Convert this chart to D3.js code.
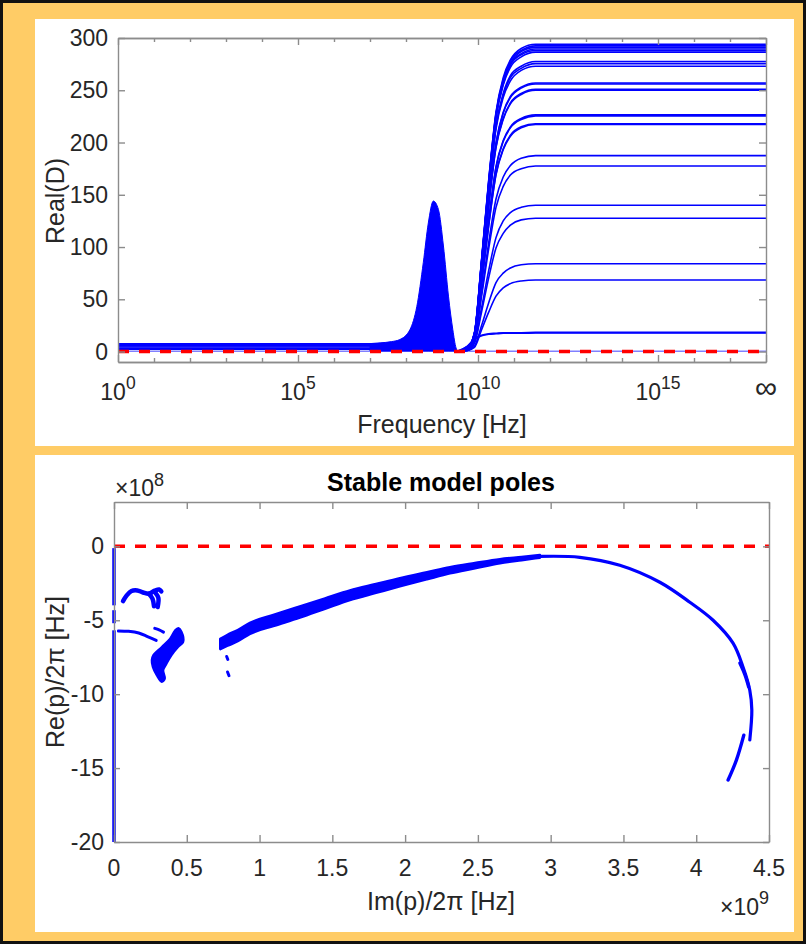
<!DOCTYPE html>
<html>
<head>
<meta charset="utf-8">
<script src="https://cdn.jsdelivr.net/npm/d3@7"></script>
<style>
  html, body { margin: 0; padding: 0; background: #fff; }
  svg { display: block; }
  text { font-family: "Liberation Sans", Arial, Helvetica, sans-serif; }
</style>
</head>
<body>
<svg id="fig" width="806" height="944"></svg>
<script>
// ---------------- Real(D) against frequency ----------------
// decade exponents of the frequency axis (10^18 is shown as infinity)
const freqDecades = [0, 1, 2, 3, 4, 5, 6, 7, 8, 9, 10, 11, 12, 13, 14, 15, 16, 17, 18];
const freqMajor = [0, 5, 10, 15, 18];
const realTicks = [0, 50, 100, 150, 200, 250, 300];

// flat low-frequency band: one line per level, up to where the resonance starts
const lowBandLevels = [2, 2.8, 3.6, 4.4, 5.2, 6.0, 6.8, 7.5];
const lowBandSpan = [0, 7.4];

// outline of the resonance bundle around 10^8.7 Hz: [exponent, Real(D)]
const peakEnvelope = [
  [7.0, 7.6], [7.28, 8.3], [7.6, 9.5], [7.83, 11.5], [8.11, 21], [8.3, 43],
  [8.48, 85], [8.62, 123], [8.76, 144], [8.9, 136], [9.04, 101], [9.18, 53],
  [9.3, 21], [9.39, 3.5], [9.43, 0.5]
];

// high-frequency rise: exponents and the value of each response at them
const riseExp = [9.4, 9.7, 9.9, 10.1, 10.3, 10.5, 10.7, 10.9, 11.2, 11.6, 18];
const riseCurves = [
  [0, 3, 18, 88, 165, 229, 262, 279, 290, 294, 294],
  [0, 3, 17, 87, 164, 228, 260, 278, 288, 292.5, 292.5],
  [0, 3, 17, 87, 163, 227, 259, 276, 287, 291, 291],
  [0, 3, 17, 86, 162, 226, 258, 275, 285, 289.5, 289.5],
  [0, 3, 17, 86, 161, 225, 256, 274, 284, 288, 288],
  [0, 3, 17, 85, 160, 223, 255, 272, 282, 286.5, 286.5],
  [0, 3, 16, 83, 155, 216, 247, 264, 273, 277.5, 277.5],
  [0, 3, 16, 82, 154, 215, 245, 262, 271, 275.5, 275.5],
  [0, 3, 16, 82, 153, 213, 243, 259, 269, 273, 273],
  [0, 3, 15, 77, 144, 200, 229, 244, 253, 257, 257],
  [0, 3, 15, 77, 143, 199, 228, 243, 252, 256, 256],
  [0, 3, 15, 75, 141, 196, 223, 238, 247, 251, 251],
  [0, 3, 15, 75, 140, 195, 222, 237, 246, 250, 250],
  [0, 2, 14, 68, 127, 177, 202, 215, 223, 226.5, 226.5],
  [0, 2, 14, 67, 126, 176, 201, 214, 222, 225.5, 225.5],
  [0, 2, 13, 65, 122, 170, 194, 207, 215, 218, 218],
  [0, 2, 13, 65, 121, 169, 193, 206, 214, 217.2, 217.2],
  [0, 2, 11, 56, 105, 146, 167, 178, 185, 187.5, 187.5],
  [0, 2, 11, 53, 99, 138, 158, 169, 175, 177.5, 177.5],
  [0, 1, 8, 42, 78, 109, 125, 133, 138, 140, 140],
  [0, 1, 8, 38, 71, 99, 113, 121, 126, 127.5, 127.5],
  [0, 1, 5, 25, 47, 66, 75, 80, 83, 84, 84],
  [0, 1, 4, 21, 38, 53, 61, 65, 67.5, 68.5, 68.5],
  [0, 5, 12, 15.5, 17, 17.5, 18, 18, 18, 18.3, 18.3],
  [0, 5, 11.5, 15, 16.5, 17, 17.5, 17.6, 17.6, 17.7, 17.7]
];
const zeroTrace = [[0, 0.3], [18, 0.3]];

// ---------------- Stable model poles ----------------
const imTicks = [0, 0.5, 1, 1.5, 2, 2.5, 3, 3.5, 4, 4.5];          // x 1e9
const reTicks = [-20, -15, -10, -5, 0];                          // x 1e8

// poles on the real axis (Im ~ 0): [Im, Re] segments
const axisPoles = [
  [[0.0, -0.12], [0.0, -3.99]],
  [[0.0, -4.32], [0.0, -5.2]],
  [[0.0, -5.68], [0.0, -20]]
];
// small curled group near Re = -3.5e8
const curlPoles = [
  [[0.062, -3.7], [0.085, -3.35], [0.12, -3.02], [0.16, -2.98], [0.2, -3.12], [0.24, -3.2], [0.28, -3.0], [0.31, -2.92], [0.325, -3.05]],
  [[0.24, -3.2], [0.265, -3.55], [0.275, -4.05]],
  [[0.285, -3.15], [0.305, -3.5], [0.3, -4.1]]
];
// thin branches near Re = -6e8
const branchPoles = [
  [[0.03, -5.72], [0.1, -5.75], [0.17, -5.86], [0.23, -6.1], [0.29, -6.36]],
  [[0.28, -5.55], [0.31, -5.65], [0.34, -5.8]],
  [[0.774, -7.45], [0.782, -7.65]],
  [[0.78, -8.5], [0.79, -8.75]]
];
// dense cluster outline
const clusterOutline = [
  [0.270, -7.36], [0.328, -6.80], [0.385, -6.24], [0.419, -5.68], [0.442, -5.52],
  [0.465, -5.79], [0.476, -6.47], [0.442, -6.80], [0.396, -7.36], [0.362, -7.93],
  [0.339, -8.38], [0.350, -8.94], [0.328, -9.17], [0.293, -8.72], [0.266, -8.16],
  [0.259, -7.70]
];
// main pole arc, band part: [Im, upper Re, lower Re]
const arcBand = [
  [0.73, -6.25, -6.95], [0.78, -5.98, -6.72], [0.85, -5.66, -6.42], [0.934, -5.17, -5.92],
  [1.1, -4.62, -5.38], [1.277, -4.06, -4.82], [1.45, -3.52, -4.22], [1.621, -2.99, -3.63],
  [1.8, -2.55, -3.15], [1.964, -2.15, -2.71], [2.15, -1.75, -2.23], [2.308, -1.41, -1.83],
  [2.48, -1.13, -1.49], [2.651, -0.87, -1.15], [2.8, -0.72, -0.94], [2.926, -0.59, -0.77]
];
// main pole arc, thin part down to the right
const arcTail = [
  [2.926, -0.68], [3.2, -0.74], [3.475, -1.28], [3.75, -2.43], [3.956, -3.78],
  [4.116, -5.0], [4.253, -6.55], [4.322, -8.18], [4.368, -9.73], [4.382, -11.08], [4.368, -13.1]
];
const arcExtra = [
  [[4.30, -7.9], [4.335, -8.7], [4.36, -9.5]],
  [[4.327, -12.77], [4.276, -14.46], [4.219, -15.81]]
];

// ---------------- drawing ----------------
const BLUE = "#0000ff", AXIS = "#8c8c8c", INK = "#262626";
const TICK_FS = 23, LABEL_FS = 25;
const svg = d3.select("#fig");

// frame: black rim, orange mat, two white panels
svg.append("rect").attr("width", 806).attr("height", 944).attr("fill", "#111");
svg.append("rect").attr("x", 3).attr("y", 3).attr("width", 800).attr("height", 938).attr("fill", "#ffcc66");
svg.append("rect").attr("x", 35).attr("y", 19).attr("width", 759).attr("height", 427).attr("fill", "#fff");
svg.append("rect").attr("x", 35).attr("y", 455).attr("width", 759).attr("height", 477).attr("fill", "#fff");

function boxAxes(g, x, y, xMajor, xMinor, yMajor, yLen) {
  const [x0, x1] = x.range(), [y0, y1] = y.range();
  const addAxis = (axis, tf, cls) => {
    const a = g.append("g").attr("class", cls).attr("transform", tf).call(axis);
    a.select(".domain").attr("stroke", AXIS).attr("stroke-width", 1.4);
    a.selectAll(".tick line").attr("stroke", AXIS).attr("stroke-width", 1.4);
    a.selectAll("text").remove();
    return a;
  };
  const X = (f) => f.tickSizeOuter(0).tickFormat("");
  addAxis(X(d3.axisBottom(x).tickValues(xMajor).tickSizeInner(-7)), `translate(0,${y0})`, "xb");
  addAxis(X(d3.axisTop(x).tickValues(xMajor).tickSizeInner(-7)), `translate(0,${y1})`, "xt");
  if (xMinor) {
    addAxis(X(d3.axisBottom(x).tickValues(xMinor).tickSizeInner(-4)), `translate(0,${y0})`, "xbm");
    addAxis(X(d3.axisTop(x).tickValues(xMinor).tickSizeInner(-4)), `translate(0,${y1})`, "xtm");
  }
  addAxis(X(d3.axisLeft(y).tickValues(yMajor).tickSizeInner(-yLen)), `translate(${x0},0)`, "yl");
  addAxis(X(d3.axisRight(y).tickValues(yMajor).tickSizeInner(-yLen)), `translate(${x1},0)`, "yr");
}

// ===== top panel =====
const xTop = d3.scaleLog().domain([1, 1e18]).range([118, 766]);
const yTop = d3.scaleLinear().domain([-10, 300]).range([362, 38]);
const fx = (e) => xTop(Math.pow(10, e));
const gTop = svg.append("g");
gTop.append("clipPath").attr("id", "clipTop").append("rect")
  .attr("x", 118).attr("y", 38).attr("width", 648).attr("height", 324);
const plotTop = gTop.append("g").attr("clip-path", "url(#clipTop)");

const lineTop = d3.line().x(d => fx(d[0])).y(d => yTop(d[1])).curve(d3.curveMonotoneX);

plotTop.append("path").datum(zeroTrace).attr("d", lineTop)
  .attr("fill", "none").attr("stroke", "#8080ff").attr("stroke-width", 1.5);

plotTop.selectAll("path.low").data(lowBandLevels).join("path").attr("class", "low")
  .attr("d", v => lineTop([[lowBandSpan[0], v], [lowBandSpan[1], v]]))
  .attr("fill", "none").attr("stroke", BLUE).attr("stroke-width", 1.3);

plotTop.append("path").datum(peakEnvelope)
  .attr("d", d3.area().x(d => fx(d[0])).y0(yTop(0.5)).y1(d => yTop(d[1])).curve(d3.curveMonotoneX))
  .attr("fill", BLUE).attr("stroke", BLUE).attr("stroke-width", 1);

plotTop.selectAll("path.rise").data(riseCurves).join("path").attr("class", "rise")
  .attr("d", vals => lineTop(vals.map((v, i) => [riseExp[i], v])))
  .attr("fill", "none").attr("stroke", BLUE).attr("stroke-width", 1.6);

plotTop.append("line")
  .attr("x1", fx(0)).attr("x2", fx(18)).attr("y1", yTop(0)).attr("y2", yTop(0))
  .attr("stroke", "#ff0000").attr("stroke-width", 3.5).attr("stroke-dasharray", "11 10");

boxAxes(gTop, xTop,  yTop,
  freqMajor.map(e => Math.pow(10, e)),
  freqDecades.filter(e => !freqMajor.includes(e)).map(e => Math.pow(10, e)),
  realTicks, 7);

// tick labels, top panel
gTop.selectAll("text.ylab").data(realTicks).join("text").attr("class", "ylab")
  .attr("x", 108).attr("y", d => yTop(d)).attr("dy", "0.35em")
  .attr("text-anchor", "end").attr("font-size", TICK_FS).attr("fill", INK).text(d => d);

freqMajor.forEach(e => {
  if (e === 18) {
    gTop.append("text").attr("x", fx(e)).attr("y", 398).attr("text-anchor", "middle")
      .attr("font-size", 31).attr("fill", INK).text("∞");
  } else {
    const t = gTop.append("text").attr("x", fx(e)).attr("y", 400).attr("text-anchor", "middle")
      .attr("font-size", TICK_FS).attr("fill", INK);
    t.append("tspan").text("10");
    t.append("tspan").attr("dy", -11).attr("font-size", 17.5).text(e);
  }
});
gTop.append("text").attr("x", 442).attr("y", 433).attr("text-anchor", "middle")
  .attr("font-size", LABEL_FS).attr("fill", INK).text("Frequency [Hz]");
gTop.append("text").attr("transform", "translate(64,201) rotate(-90)").attr("text-anchor", "middle")
  .attr("font-size", LABEL_FS).attr("fill", INK).text("Real(D)");

// ===== bottom panel =====
const xBot = d3.scaleLinear().domain([0, 4.5]).range([114, 769]);
const yBot = d3.scaleLinear().domain([-20, 3]).range([842, 502]);
const gBot = svg.append("g");
gBot.append("clipPath").attr("id", "clipBot").append("rect")
  .attr("x", 110).attr("y", 502).attr("width", 659).attr("height", 341);
const plotBot = gBot.append("g").attr("clip-path", "url(#clipBot)");

const lineBot = d3.line().x(d => xBot(d[0])).y(d => yBot(d[1]));
const smoothBot = d3.line().x(d => xBot(d[0])).y(d => yBot(d[1])).curve(d3.curveCatmullRom);

plotBot.append("line")
  .attr("x1", xBot(0)).attr("x2", xBot(4.5)).attr("y1", yBot(0)).attr("y2", yBot(0))
  .attr("stroke", "#ff0000").attr("stroke-width", 3.5).attr("stroke-dasharray", "11 10");

boxAxes(gBot, xBot, yBot, imTicks, null, reTicks, 6);

plotBot.selectAll("path.axp").data(axisPoles).join("path").attr("class", "axp")
  .attr("d", lineBot).attr("fill", "none").attr("stroke", BLUE).attr("stroke-width", 3.5);

plotBot.selectAll("path.curl").data(curlPoles).join("path").attr("class", "curl")
  .attr("d", smoothBot).attr("fill", "none").attr("stroke", BLUE).attr("stroke-width", 4.5)
  .attr("stroke-linecap", "round").attr("stroke-linejoin", "round");

plotBot.selectAll("path.br").data(branchPoles).join("path").attr("class", "br")
  .attr("d", smoothBot).attr("fill", "none").attr("stroke", BLUE).attr("stroke-width", 3)
  .attr("stroke-linecap", "round");

plotBot.append("path").datum(clusterOutline)
  .attr("d", d3.line().x(d => xBot(d[0])).y(d => yBot(d[1])).curve(d3.curveCatmullRomClosed))
  .attr("fill", BLUE).attr("stroke", BLUE).attr("stroke-width", 2);

plotBot.append("path").datum(arcBand)
  .attr("d", d3.area().x(d => xBot(d[0])).y0(d => yBot(d[2])).y1(d => yBot(d[1])).curve(d3.curveMonotoneX))
  .attr("fill", BLUE).attr("stroke", BLUE).attr("stroke-width", 2.5).attr("stroke-linejoin", "round");

plotBot.append("path").datum(arcTail).attr("d", smoothBot)
  .attr("fill", "none").attr("stroke", BLUE).attr("stroke-width", 3.2).attr("stroke-linecap", "round");

plotBot.selectAll("path.ext").data(arcExtra).join("path").attr("class", "ext")
  .attr("d", smoothBot).attr("fill", "none").attr("stroke", BLUE).attr("stroke-width", 3.4)
  .attr("stroke-linecap", "round");

gBot.selectAll("text.ylab").data(reTicks).join("text").attr("class", "ylab")
  .attr("x", 104).attr("y", d => yBot(d)).attr("dy", "0.35em")
  .attr("text-anchor", "end").attr("font-size", TICK_FS).attr("fill", INK).text(d => d);
gBot.selectAll("text.xlab").data(imTicks).join("text").attr("class", "xlab")
  .attr("x", d => xBot(d)).attr("y", 876)
  .attr("text-anchor", "middle").attr("font-size", TICK_FS).attr("fill", INK).text(d => d);

const e8 = gBot.append("text").attr("x", 115).attr("y", 496).attr("font-size", TICK_FS).attr("fill", INK);
e8.append("tspan").text("×10");
e8.append("tspan").attr("dy", -10).attr("font-size", 18).text("8");
const e9 = gBot.append("text").attr("x", 769).attr("y", 915).attr("text-anchor", "end").attr("font-size", TICK_FS).attr("fill", INK);
e9.append("tspan").text("×10");
e9.append("tspan").attr("dy", -11).attr("font-size", 18).text("9");

gBot.append("text").attr("x", 441).attr("y", 491).attr("text-anchor", "middle")
  .attr("font-size", 25).attr("font-weight", "bold").attr("fill", "#000").text("Stable model poles");
gBot.append("text").attr("x", 441).attr("y", 910).attr("text-anchor", "middle")
  .attr("font-size", LABEL_FS).attr("fill", INK).text("Im(p)/2π [Hz]");
gBot.append("text").attr("transform", "translate(64,672) rotate(-90)").attr("text-anchor", "middle")
  .attr("font-size", LABEL_FS).attr("fill", INK).text("Re(p)/2π [Hz]");
</script>
</body>
</html>
